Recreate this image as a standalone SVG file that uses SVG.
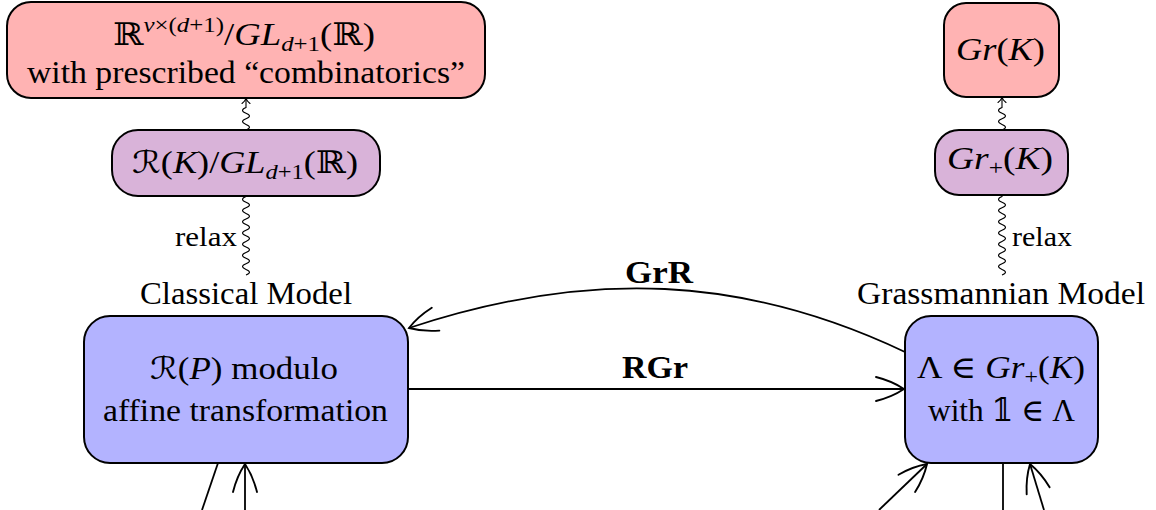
<svg xmlns="http://www.w3.org/2000/svg" width="1156" height="510" viewBox="0 0 1156 510">
  <style>
    text { font-family: "Liberation Serif", "DejaVu Serif", "DejaVu Sans", serif; font-size: 31px; fill: #000; }
    .i { font-style: italic; }
    .b { font-weight: bold; }
    .sm { font-size: 28px; }
    .red { fill: #ffb3b3; stroke: #000; stroke-width: 2; }
    .vio { fill: #d9b3d9; stroke: #000; stroke-width: 2; }
    .blu { fill: #b3b3ff; stroke: #000; stroke-width: 2; }
    .edge { fill: none; stroke: #000; stroke-width: 1.8; }
    .snake { fill: none; stroke: #000; stroke-width: 1.1; }
  </style>
  <defs>
    <!-- curved-barb "to" arrow tip -->
    <marker id="tip" viewBox="-31 -15 33 30" refX="0" refY="0" markerWidth="33" markerHeight="30" markerUnits="userSpaceOnUse" orient="auto">
      <path d="M -28 -12 Q -12 -8 0 0 Q -12 8 -28 12" fill="none" stroke="#000" stroke-width="1.9" stroke-linecap="round"/>
    </marker>
    <marker id="tipsm" viewBox="-7 -5 8 10" refX="0" refY="0" markerWidth="8" markerHeight="10" markerUnits="userSpaceOnUse" orient="auto">
      <path d="M -5 -4 C -3.5 -2 -1.5 -0.5 0 0 C -1.5 0.5 -3.5 2 -5 4" fill="none" stroke="#000" stroke-width="1.1" stroke-linecap="round"/>
    </marker>
  </defs>

  <!-- connectors -->
  <g id="connectors">
    <!-- relax: classical model up to R(K)/GL -->
    <path class="snake" d="M 246 275 q 7 -2.8 0 -5.6 t 0 -5.6 t 0 -5.6 t 0 -5.6 t 0 -5.6 t 0 -5.6 t 0 -5.6 t 0 -5.6 t 0 -5.6 t 0 -5.6 t 0 -5.6 t 0 -5.6 t 0 -5.6 t 0 -5.6 L 246 197"/>
    <!-- R(K)/GL up to prescribed combinatorics -->
    <path class="snake" marker-end="url(#tipsm)" d="M 246 130 q 7 -2.8 0 -5.6 t 0 -5.6 t 0 -5.6 t 0 -5.6 L 246 98.5"/>
    <!-- relax: Grassmannian model up to Gr+(K) -->
    <path class="snake" d="M 1002 275 q 7 -2.8 0 -5.6 t 0 -5.6 t 0 -5.6 t 0 -5.6 t 0 -5.6 t 0 -5.6 t 0 -5.6 t 0 -5.6 t 0 -5.6 t 0 -5.6 t 0 -5.6 t 0 -5.6 t 0 -5.6 t 0 -5.6 L 1002 195"/>
    <!-- Gr+(K) up to Gr(K) -->
    <path class="snake" marker-end="url(#tipsm)" d="M 1002 130 q 7 -2.8 0 -5.6 t 0 -5.6 t 0 -5.6 t 0 -5.6 L 1002 97.5"/>

    <!-- RGr -->
    <path class="edge" marker-end="url(#tip)" d="M 408 389 L 904 389"/>
    <text class="b" x="655" y="378" text-anchor="middle" textLength="66" lengthAdjust="spacingAndGlyphs">RGr</text>
    <!-- GrR -->
    <path class="edge" marker-end="url(#tip)" d="M 905 352 C 745 276 590 268 409 328"/>
    <text class="b" x="659" y="283" text-anchor="middle" textLength="68" lengthAdjust="spacingAndGlyphs">GrR</text>

    <!-- edges leaving the lower border -->
    <path class="edge" d="M 218 463 L 202 510"/>
    <path class="edge" marker-end="url(#tip)" d="M 245 510 L 245 464"/>
    <path class="edge" marker-end="url(#tip)" d="M 879 510 L 927 464"/>
    <path class="edge" d="M 1003 463 L 1003 510"/>
    <path class="edge" marker-end="url(#tip)" d="M 1044 510 L 1030 464"/>
  </g>

  <!-- classical side -->
  <g id="combinatorics">
    <rect class="red" x="7" y="2" width="478" height="96" rx="24"/>
    <text x="244" y="45" text-anchor="middle" textLength="262" lengthAdjust="spacingAndGlyphs">ℝ<tspan font-size="21" dy="-13"><tspan class="i">v</tspan>×(<tspan class="i">d</tspan>+1)</tspan><tspan dy="13">/</tspan><tspan class="i">GL</tspan><tspan font-size="21" dy="6"><tspan class="i">d</tspan>+1</tspan><tspan dy="-6">(ℝ)</tspan></text>
    <text x="246" y="83" text-anchor="middle" textLength="438" lengthAdjust="spacingAndGlyphs">with prescribed “combinatorics”</text>
  </g>

  <g id="realization-space">
    <rect class="vio" x="112" y="130" width="268" height="66" rx="26"/>
    <text x="245" y="173" text-anchor="middle" textLength="226" lengthAdjust="spacingAndGlyphs">ℛ(<tspan class="i">K</tspan>)/<tspan class="i">GL</tspan><tspan font-size="21" dy="6"><tspan class="i">d</tspan>+1</tspan><tspan dy="-6">(ℝ)</tspan></text>
    <text class="sm" x="237" y="246" text-anchor="end" textLength="62" lengthAdjust="spacingAndGlyphs">relax</text>
  </g>

  <g id="classical-model">
    <text x="246" y="304" text-anchor="middle" textLength="212" lengthAdjust="spacingAndGlyphs">Classical Model</text>
    <rect class="blu" x="84" y="316" width="324" height="147" rx="26"/>
    <text x="244" y="379" text-anchor="middle" textLength="188" lengthAdjust="spacingAndGlyphs">ℛ(<tspan class="i">P</tspan>) modulo</text>
    <text x="245.5" y="421" text-anchor="middle" textLength="285" lengthAdjust="spacingAndGlyphs">affine transformation</text>
  </g>

  <!-- Grassmannian side -->
  <g id="grassmannian">
    <rect class="red" x="944" y="3" width="115" height="94" rx="22"/>
    <text x="1000.5" y="60" text-anchor="middle" textLength="89" lengthAdjust="spacingAndGlyphs"><tspan class="i">Gr</tspan>(<tspan class="i">K</tspan>)</text>
  </g>

  <g id="positive-grassmannian">
    <rect class="vio" x="935" y="130" width="133" height="65" rx="24"/>
    <text x="1000" y="169" text-anchor="middle" textLength="106" lengthAdjust="spacingAndGlyphs"><tspan class="i">Gr</tspan><tspan font-size="21" dy="6">+</tspan><tspan dy="-6">(</tspan><tspan class="i">K</tspan>)</text>
    <text class="sm" x="1012" y="246" textLength="60" lengthAdjust="spacingAndGlyphs">relax</text>
  </g>

  <g id="grassmannian-model">
    <text x="1001" y="304" text-anchor="middle" textLength="288" lengthAdjust="spacingAndGlyphs">Grassmannian Model</text>
    <rect class="blu" x="905" y="316" width="193" height="147" rx="26"/>
    <text x="1001" y="378" text-anchor="middle" textLength="168" lengthAdjust="spacingAndGlyphs">Λ ∈ <tspan class="i">Gr</tspan><tspan font-size="21" dy="6">+</tspan><tspan dy="-6">(</tspan><tspan class="i">K</tspan>)</text>
    <text x="1001.5" y="421" text-anchor="middle" textLength="147" lengthAdjust="spacingAndGlyphs">with 𝟙 ∈ Λ</text>
  </g>
</svg>
